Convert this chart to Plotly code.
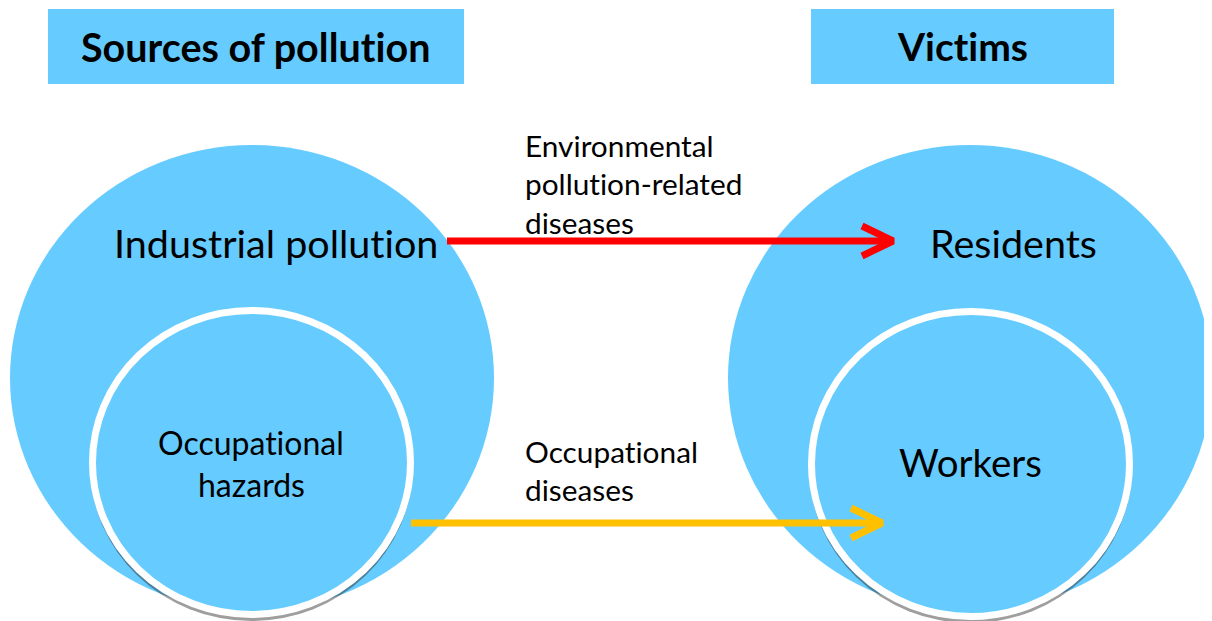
import plotly.graph_objects as go

# ---- content ----
header_labels = ["Sources of pollution", "Victims"]
source_labels = ["Industrial pollution", "Occupational", "hazards"]
victim_labels = ["Residents", "Workers"]
flow1_lines = ["Environmental", "pollution-related", "diseases"]
flow2_lines = ["Occupational", "diseases"]

BLUE = "#66CCFF"
RED = "#FF0000"
ORANGE = "#FFC000"
FONT = "Lato"

fig = go.Figure()
shapes = []

# header boxes
for (x0, x1) in [(48, 464), (811, 1114)]:
    shapes.append(dict(type="rect", xref="x", yref="y", x0=x0, x1=x1, y0=9, y1=84,
                       fillcolor=BLUE, line=dict(width=0), layer="below"))

# big circles
for (x0, x1) in [(10, 494), (728, 1212)]:
    shapes.append(dict(type="circle", xref="x", yref="y", x0=x0, x1=x1, y0=145, y1=611,
                       fillcolor=BLUE, line=dict(width=0), layer="below"))

# inner circles with shadow and white ring
for (x0, x1, y0, y1) in [(89, 414, 307, 618), (808, 1133, 308, 620)]:
    shapes.append(dict(type="circle", xref="x", yref="y", x0=x0 + 1, x1=x1 - 1, y0=y0 + 3, y1=y1 + 3,
                       fillcolor="rgba(40,40,40,0.45)", line=dict(width=0), layer="below"))
    shapes.append(dict(type="circle", xref="x", yref="y", x0=x0 + 3.5, x1=x1 - 3.5,
                       y0=y0 + 3.5, y1=y1 - 3.5,
                       fillcolor=BLUE, line=dict(color="white", width=7), layer="below"))

# arrows
arrows = [
    (RED, 447, 893, 241, 862, 15),
    (ORANGE, 411, 882, 523, 851, 15),
]
for color, xs, xe, yy, xa, dy in arrows:
    fig.add_trace(go.Scatter(x=[xs, xe - 3], y=[yy, yy], mode="lines",
                             line=dict(color=color, width=7), hoverinfo="skip", showlegend=False))
    fig.add_trace(go.Scatter(x=[xa, xe, xa], y=[yy - dy, yy, yy + dy], mode="lines",
                             line=dict(color=color, width=7),
                             hoverinfo="skip", showlegend=False))

ann = []
def txt(t, x, y, size, bold=False, xanchor="center"):
    s = f"<b>{t}</b>" if bold else t
    s = f'<span style="font-variant-ligatures:none">{s}</span>'
    ann.append(dict(text=s, x=x, y=y, xref="x", yref="y",
                    xanchor=xanchor, yanchor="middle", showarrow=False,
                    font=dict(family=FONT, size=size, color="black")))

txt(header_labels[0], 255, 46, 39.5, bold=True)
txt(header_labels[1], 962, 46, 39, bold=True)
txt(source_labels[0], 276, 242, 39.5)
txt(source_labels[1], 251, 442, 32)
txt(source_labels[2], 251, 484, 32)
txt(victim_labels[0], 1013, 242, 39.5)
txt(victim_labels[1], 970, 462, 38.5)
for i, t in enumerate(flow1_lines):
    txt(t, 523, 145 + i * 38.5, 29.8, xanchor="left")
for i, t in enumerate(flow2_lines):
    txt(t, 523, 451 + i * 38.5, 29.8, xanchor="left")

# the page body adds an 8px margin; shift the view so page pixels match the layout
OFF = 8
fig.update_layout(
    width=1212 - OFF, height=621 - OFF,
    margin=dict(l=0, r=0, t=0, b=0),
    paper_bgcolor="white", plot_bgcolor="white",
    shapes=shapes, annotations=ann,
    xaxis=dict(range=[OFF, 1212], visible=False, fixedrange=True),
    yaxis=dict(range=[621, OFF], visible=False, fixedrange=True),
)
fig.write_html("out.html")
